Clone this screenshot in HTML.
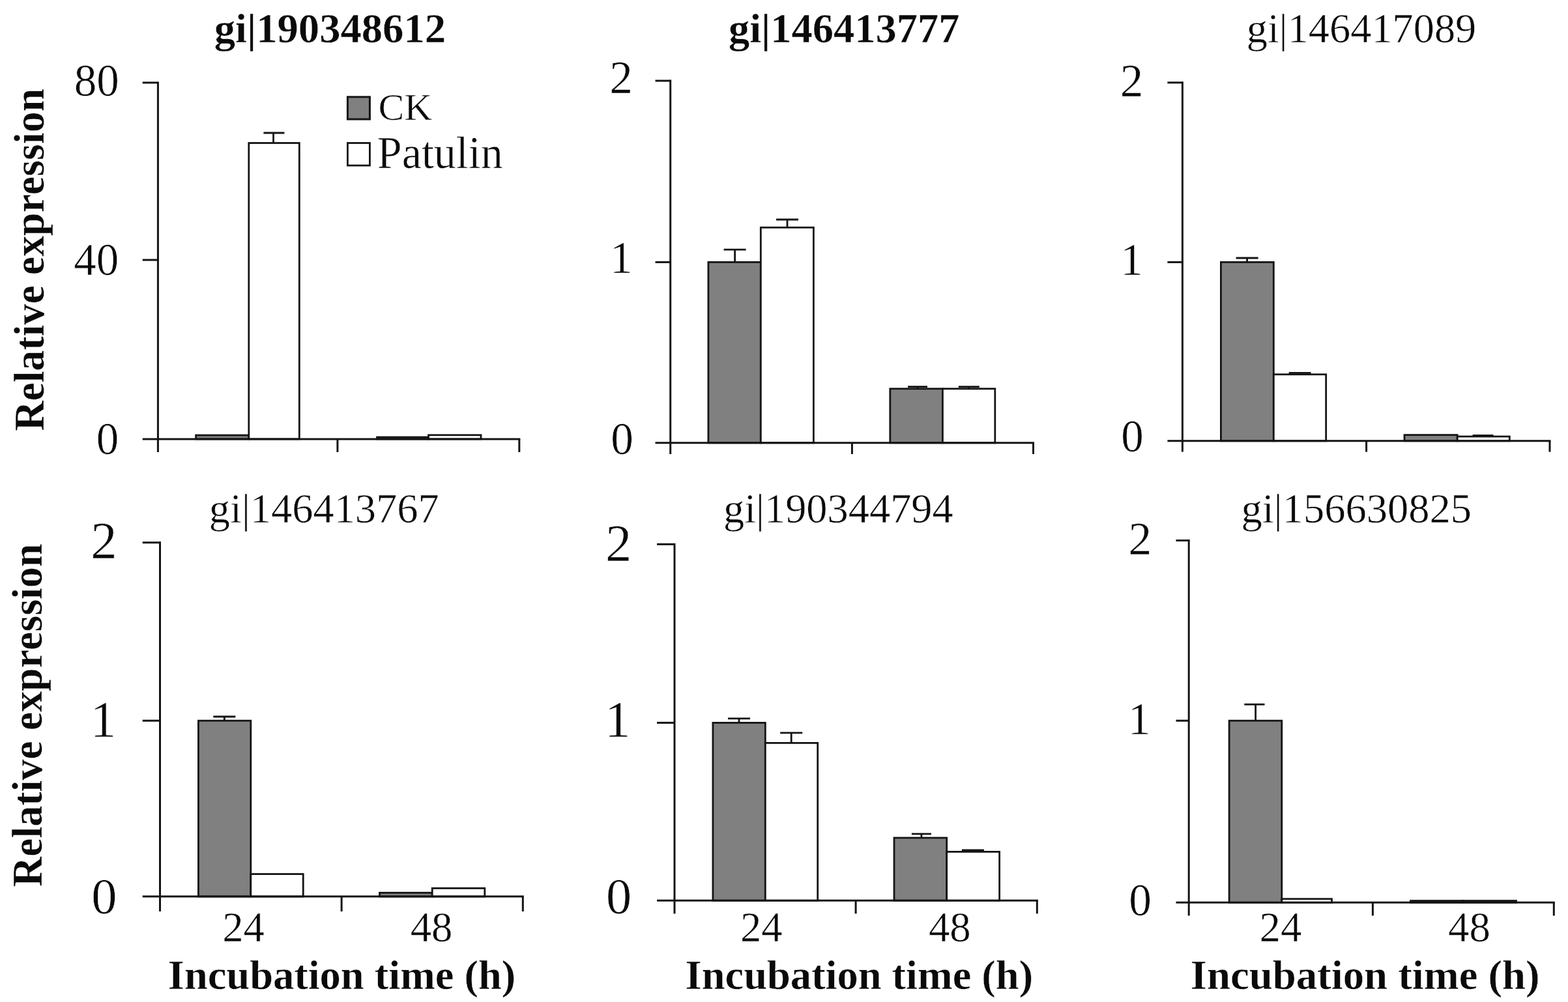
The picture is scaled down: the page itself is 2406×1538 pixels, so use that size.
<!DOCTYPE html>
<html lang="en">
<head>
<meta charset="utf-8">
<title>Relative expression of six genes, CK vs Patulin</title>
<style>
html,body{margin:0;padding:0;background:#fff;}
body{width:2406px;height:1538px;overflow:hidden;}
svg{display:block;}
text{font-family:"Liberation Serif", serif;fill:#0a0a0a;}
text.r{stroke:#fff;stroke-width:0.55px;}
text.b{stroke:#fff;stroke-width:0.4px;}
</style>
</head>
<body>
<svg width="2406" height="1538" viewBox="0 0 2406 1538">
<rect x="0" y="0" width="2406" height="1538" fill="#fff"/>
<rect x="300.6" y="668.0" width="81.2" height="5.9" fill="#808080" stroke="#141414" stroke-width="2.8"/>
<rect x="381.8" y="219.5" width="77.5" height="454.4" fill="#fff" stroke="#141414" stroke-width="2.8"/>
<rect x="578.5" y="671.0" width="79.0" height="2.9" fill="#808080" stroke="#141414" stroke-width="2.8"/>
<rect x="657.5" y="667.8" width="80.5" height="6.1" fill="#fff" stroke="#141414" stroke-width="2.8"/>
<line x1="419.5" y1="204.0" x2="419.5" y2="219.5" stroke="#141414" stroke-width="2.8"/>
<line x1="404.4" y1="204.0" x2="436.4" y2="204.0" stroke="#141414" stroke-width="2.8"/>
<line x1="242.4" y1="125.4" x2="242.4" y2="694.0" stroke="#141414" stroke-width="3.0"/>
<line x1="218.7" y1="673.9" x2="798.3" y2="673.9" stroke="#141414" stroke-width="3.0"/>
<line x1="517.9" y1="673.9" x2="517.9" y2="694.0" stroke="#141414" stroke-width="3.0"/>
<line x1="796.8" y1="673.9" x2="796.8" y2="694.0" stroke="#141414" stroke-width="3.0"/>
<line x1="218.7" y1="126.9" x2="242.4" y2="126.9" stroke="#141414" stroke-width="3.0"/>
<line x1="218.7" y1="399.0" x2="242.4" y2="399.0" stroke="#141414" stroke-width="3.0"/>
<rect x="1086.9" y="402.4" width="80.4" height="277.4" fill="#808080" stroke="#141414" stroke-width="2.8"/>
<rect x="1167.3" y="349.2" width="81.1" height="330.6" fill="#fff" stroke="#141414" stroke-width="2.8"/>
<rect x="1365.8" y="596.7" width="80.6" height="83.1" fill="#808080" stroke="#141414" stroke-width="2.8"/>
<rect x="1446.4" y="596.7" width="80.4" height="83.1" fill="#fff" stroke="#141414" stroke-width="2.8"/>
<line x1="1127.6" y1="383.2" x2="1127.6" y2="402.4" stroke="#141414" stroke-width="2.8"/>
<line x1="1110.6" y1="383.2" x2="1144.6" y2="383.2" stroke="#141414" stroke-width="2.8"/>
<line x1="1208.0" y1="337.0" x2="1208.0" y2="349.2" stroke="#141414" stroke-width="2.8"/>
<line x1="1191.0" y1="337.0" x2="1225.0" y2="337.0" stroke="#141414" stroke-width="2.8"/>
<line x1="1408.0" y1="593.6" x2="1408.0" y2="596.7" stroke="#141414" stroke-width="2.8"/>
<line x1="1393.0" y1="593.6" x2="1423.0" y2="593.6" stroke="#141414" stroke-width="2.8"/>
<line x1="1486.8" y1="593.6" x2="1486.8" y2="596.7" stroke="#141414" stroke-width="2.8"/>
<line x1="1470.8" y1="593.6" x2="1502.8" y2="593.6" stroke="#141414" stroke-width="2.8"/>
<line x1="1028.7" y1="122.5" x2="1028.7" y2="697.0" stroke="#141414" stroke-width="3.0"/>
<line x1="1005.5" y1="679.8" x2="1587.0" y2="679.8" stroke="#141414" stroke-width="3.0"/>
<line x1="1307.4" y1="679.8" x2="1307.4" y2="697.0" stroke="#141414" stroke-width="3.0"/>
<line x1="1585.5" y1="679.8" x2="1585.5" y2="697.0" stroke="#141414" stroke-width="3.0"/>
<line x1="1005.5" y1="124.0" x2="1028.7" y2="124.0" stroke="#141414" stroke-width="3.0"/>
<line x1="1005.5" y1="402.4" x2="1028.7" y2="402.4" stroke="#141414" stroke-width="3.0"/>
<rect x="1873.4" y="402.4" width="80.9" height="274.4" fill="#808080" stroke="#141414" stroke-width="2.8"/>
<rect x="1954.3" y="574.7" width="80.4" height="102.1" fill="#fff" stroke="#141414" stroke-width="2.8"/>
<rect x="2155.0" y="667.6" width="81.2" height="9.2" fill="#808080" stroke="#141414" stroke-width="2.8"/>
<rect x="2236.2" y="670.0" width="80.1" height="6.8" fill="#fff" stroke="#141414" stroke-width="2.8"/>
<line x1="1913.6" y1="396.0" x2="1913.6" y2="402.4" stroke="#141414" stroke-width="2.8"/>
<line x1="1896.6" y1="396.0" x2="1930.6" y2="396.0" stroke="#141414" stroke-width="2.8"/>
<line x1="1994.6" y1="572.4" x2="1994.6" y2="574.7" stroke="#141414" stroke-width="2.8"/>
<line x1="1977.6" y1="572.4" x2="2011.6" y2="572.4" stroke="#141414" stroke-width="2.8"/>
<line x1="2275.6" y1="668.3" x2="2275.6" y2="670.0" stroke="#141414" stroke-width="2.8"/>
<line x1="2259.6" y1="668.3" x2="2291.6" y2="668.3" stroke="#141414" stroke-width="2.8"/>
<line x1="1814.4" y1="125.3" x2="1814.4" y2="693.6" stroke="#141414" stroke-width="3.0"/>
<line x1="1791.4" y1="676.8" x2="2379.5" y2="676.8" stroke="#141414" stroke-width="3.0"/>
<line x1="2096.6" y1="676.8" x2="2096.6" y2="693.6" stroke="#141414" stroke-width="3.0"/>
<line x1="2378.0" y1="676.8" x2="2378.0" y2="693.6" stroke="#141414" stroke-width="3.0"/>
<line x1="1791.4" y1="126.8" x2="1814.4" y2="126.8" stroke="#141414" stroke-width="3.0"/>
<line x1="1791.4" y1="402.4" x2="1814.4" y2="402.4" stroke="#141414" stroke-width="3.0"/>
<rect x="304.4" y="1106.2" width="80.4" height="269.9" fill="#808080" stroke="#141414" stroke-width="2.8"/>
<rect x="384.8" y="1341.6" width="80.4" height="34.5" fill="#fff" stroke="#141414" stroke-width="2.8"/>
<rect x="582.5" y="1370.3" width="80.7" height="5.8" fill="#808080" stroke="#141414" stroke-width="2.8"/>
<rect x="663.2" y="1363.4" width="80.6" height="12.7" fill="#fff" stroke="#141414" stroke-width="2.8"/>
<line x1="344.3" y1="1100.0" x2="344.3" y2="1106.2" stroke="#141414" stroke-width="2.8"/>
<line x1="327.3" y1="1100.0" x2="361.3" y2="1100.0" stroke="#141414" stroke-width="2.8"/>
<line x1="245.5" y1="831.3" x2="245.5" y2="1399.0" stroke="#141414" stroke-width="3.0"/>
<line x1="218.7" y1="1376.1" x2="803.8" y2="1376.1" stroke="#141414" stroke-width="3.0"/>
<line x1="524.1" y1="1376.1" x2="524.1" y2="1399.0" stroke="#141414" stroke-width="3.0"/>
<line x1="802.3" y1="1376.1" x2="802.3" y2="1399.0" stroke="#141414" stroke-width="3.0"/>
<line x1="218.7" y1="832.8" x2="245.5" y2="832.8" stroke="#141414" stroke-width="3.0"/>
<line x1="218.7" y1="1106.2" x2="245.5" y2="1106.2" stroke="#141414" stroke-width="3.0"/>
<rect x="1093.9" y="1109.4" width="80.4" height="272.9" fill="#808080" stroke="#141414" stroke-width="2.8"/>
<rect x="1174.3" y="1140.4" width="80.4" height="241.9" fill="#fff" stroke="#141414" stroke-width="2.8"/>
<rect x="1372.0" y="1286.0" width="80.7" height="96.3" fill="#808080" stroke="#141414" stroke-width="2.8"/>
<rect x="1452.7" y="1307.4" width="80.9" height="74.9" fill="#fff" stroke="#141414" stroke-width="2.8"/>
<line x1="1134.0" y1="1102.9" x2="1134.0" y2="1109.4" stroke="#141414" stroke-width="2.8"/>
<line x1="1117.0" y1="1102.9" x2="1151.0" y2="1102.9" stroke="#141414" stroke-width="2.8"/>
<line x1="1214.2" y1="1124.9" x2="1214.2" y2="1140.4" stroke="#141414" stroke-width="2.8"/>
<line x1="1197.2" y1="1124.9" x2="1231.2" y2="1124.9" stroke="#141414" stroke-width="2.8"/>
<line x1="1413.9" y1="1280.0" x2="1413.9" y2="1286.0" stroke="#141414" stroke-width="2.8"/>
<line x1="1398.9" y1="1280.0" x2="1428.9" y2="1280.0" stroke="#141414" stroke-width="2.8"/>
<line x1="1492.9" y1="1305.0" x2="1492.9" y2="1307.4" stroke="#141414" stroke-width="2.8"/>
<line x1="1475.9" y1="1305.0" x2="1509.9" y2="1305.0" stroke="#141414" stroke-width="2.8"/>
<line x1="1035.0" y1="833.9" x2="1035.0" y2="1402.4" stroke="#141414" stroke-width="3.0"/>
<line x1="1008.0" y1="1382.3" x2="1592.8" y2="1382.3" stroke="#141414" stroke-width="3.0"/>
<line x1="1313.1" y1="1382.3" x2="1313.1" y2="1402.4" stroke="#141414" stroke-width="3.0"/>
<line x1="1591.3" y1="1382.3" x2="1591.3" y2="1402.4" stroke="#141414" stroke-width="3.0"/>
<line x1="1008.0" y1="835.4" x2="1035.0" y2="835.4" stroke="#141414" stroke-width="3.0"/>
<line x1="1008.0" y1="1109.4" x2="1035.0" y2="1109.4" stroke="#141414" stroke-width="3.0"/>
<rect x="1886.1" y="1106.2" width="80.7" height="279.1" fill="#808080" stroke="#141414" stroke-width="2.8"/>
<rect x="1966.8" y="1379.8" width="76.7" height="5.5" fill="#fff" stroke="#141414" stroke-width="2.8"/>
<rect x="2164.5" y="1382.6" width="80.5" height="2.7" fill="#808080" stroke="#141414" stroke-width="2.8"/>
<rect x="2245.0" y="1382.6" width="81.5" height="2.7" fill="#fff" stroke="#141414" stroke-width="2.8"/>
<line x1="1926.6" y1="1081.2" x2="1926.6" y2="1106.2" stroke="#141414" stroke-width="2.8"/>
<line x1="1909.3" y1="1081.2" x2="1940.5" y2="1081.2" stroke="#141414" stroke-width="2.8"/>
<line x1="1824.2" y1="828.1" x2="1824.2" y2="1405.5" stroke="#141414" stroke-width="3.0"/>
<line x1="1804.5" y1="1385.3" x2="2385.8" y2="1385.3" stroke="#141414" stroke-width="3.0"/>
<line x1="2106.4" y1="1385.3" x2="2106.4" y2="1405.5" stroke="#141414" stroke-width="3.0"/>
<line x1="2384.3" y1="1385.3" x2="2384.3" y2="1405.5" stroke="#141414" stroke-width="3.0"/>
<line x1="1804.5" y1="829.6" x2="1824.2" y2="829.6" stroke="#141414" stroke-width="3.0"/>
<line x1="1804.5" y1="1106.2" x2="1824.2" y2="1106.2" stroke="#141414" stroke-width="3.0"/>
<rect x="533.4" y="148.8" width="34.0" height="34.2" fill="#808080" stroke="#141414" stroke-width="3.0"/>
<rect x="533.4" y="219.5" width="34.0" height="34.5" fill="#fff" stroke="#141414" stroke-width="2.8"/>
<text transform="translate(580.62,184.28) scale(1.0583,1)" font-size="56.27" class="r">CK</text>
<text transform="translate(578.86,258.47) scale(0.9731,1)" font-size="69.97" class="r">Patulin</text>
<text transform="translate(328.72,64.90) scale(1.0121,1)" font-size="63.86" font-weight="bold" class="b">gi|190348612</text>
<text transform="translate(1117.93,64.90) scale(1.0097,1)" font-size="63.86" font-weight="bold" class="b">gi|146413777</text>
<text transform="translate(1912.76,64.98) scale(1.0045,1)" font-size="64.07" class="r">gi|146417089</text>
<text transform="translate(320.76,802.07) scale(1.0058,1)" font-size="64.07" class="r">gi|146413767</text>
<text transform="translate(1109.96,802.07) scale(1.0053,1)" font-size="64.07" class="r">gi|190344794</text>
<text transform="translate(1904.46,802.07) scale(1.0079,1)" font-size="64.07" class="r">gi|156630825</text>
<text transform="translate(113.77,146.97)" font-size="68.97" class="r">80</text>
<text transform="translate(113.22,422.07)" font-size="68.97" class="r">40</text>
<text transform="translate(147.86,696.88)" font-size="68.97" class="r">0</text>
<text transform="translate(935.30,142.58)" font-size="71.43" class="r">2</text>
<text transform="translate(935.72,419.38)" font-size="70.06" class="r">1</text>
<text transform="translate(937.16,696.57)" font-size="69.37" class="r">0</text>
<text transform="translate(1718.80,148.08)" font-size="71.02" class="r">2</text>
<text transform="translate(1719.23,421.88)" font-size="69.65" class="r">1</text>
<text transform="translate(1720.36,692.88)" font-size="68.97" class="r">0</text>
<text transform="translate(139.13,857.07)" font-size="80.7" class="r">2</text>
<text transform="translate(138.82,1129.98)" font-size="79.15" class="r">1</text>
<text transform="translate(140.31,1401.78)" font-size="78.37" class="r">0</text>
<text transform="translate(928.93,860.57)" font-size="80.7" class="r">2</text>
<text transform="translate(928.02,1129.68)" font-size="79.15" class="r">1</text>
<text transform="translate(929.91,1402.08)" font-size="78.37" class="r">0</text>
<text transform="translate(1731.50,850.57)" font-size="71.43" class="r">2</text>
<text transform="translate(1730.82,1127.18)" font-size="70.06" class="r">1</text>
<text transform="translate(1732.26,1405.38)" font-size="69.37" class="r">0</text>
<text transform="translate(341.24,1445.08)" font-size="64.77" class="r">24</text>
<text transform="translate(629.68,1444.58)" font-size="64.77" class="r">48</text>
<text transform="translate(1135.94,1445.08)" font-size="64.77" class="r">24</text>
<text transform="translate(1424.98,1444.58)" font-size="64.77" class="r">48</text>
<text transform="translate(1932.54,1445.08)" font-size="64.77" class="r">24</text>
<text transform="translate(2222.08,1444.58)" font-size="64.77" class="r">48</text>
<text transform="translate(257.81,1517.90) scale(1.0141,1)" font-size="63.56" font-weight="bold" class="b">Incubation time (h)</text>
<text transform="translate(1051.61,1517.90) scale(1.0141,1)" font-size="63.56" font-weight="bold" class="b">Incubation time (h)</text>
<text transform="translate(1826.80,1517.90) scale(1.0187,1)" font-size="63.56" font-weight="bold" class="b">Incubation time (h)</text>
<text transform="translate(67.40,661.62) rotate(-90) scale(0.9895,1)" font-size="64.56" font-weight="bold" class="b">Relative expression</text>
<text transform="translate(64.20,1361.22) rotate(-90) scale(0.9914,1)" font-size="64.56" font-weight="bold" class="b">Relative expression</text>
</svg>
</body>
</html>
